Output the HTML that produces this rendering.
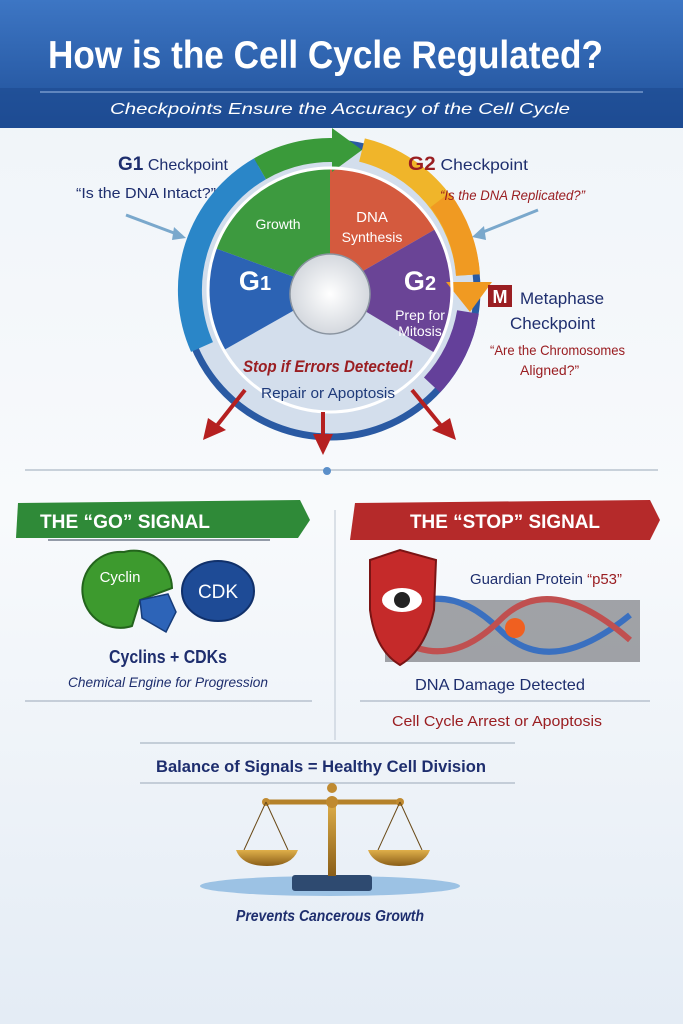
<!DOCTYPE html>
<html><head><meta charset="utf-8"><style>
html,body{margin:0;padding:0;background:#f3f6fa}
svg{display:block}
text{font-family:"Liberation Sans",sans-serif}
</style></head><body>
<svg width="683" height="1024" viewBox="0 0 683 1024" xmlns="http://www.w3.org/2000/svg">
<defs>
<linearGradient id="hdr" x1="0" y1="0" x2="0" y2="1"><stop offset="0" stop-color="#3d76c4"/><stop offset="1" stop-color="#1f4f98"/></linearGradient>
<linearGradient id="bg" x1="0" y1="0" x2="0" y2="1"><stop offset="0" stop-color="#eef3f8"/><stop offset="0.5" stop-color="#f8fafc"/><stop offset="1" stop-color="#e4ecf5"/></linearGradient>
<linearGradient id="gold" x1="0" y1="0" x2="0" y2="1"><stop offset="0" stop-color="#e0b04a"/><stop offset="1" stop-color="#8a5e18"/></linearGradient>
<radialGradient id="hub"><stop offset="0" stop-color="#ffffff"/><stop offset="1" stop-color="#d4d8de"/></radialGradient>
</defs>
<rect width="683" height="1024" fill="url(#bg)"/>
<!-- header -->
<rect width="683" height="128" fill="url(#hdr)"/>
<rect y="88" width="683" height="40" fill="#1d4a8f" opacity="0.6"/>
<text x="48" y="68" font-size="39" font-weight="bold" fill="#fff" textLength="555" lengthAdjust="spacingAndGlyphs">How is the Cell Cycle Regulated?</text>
<line x1="40" y1="92" x2="643" y2="92" stroke="#9fbde6" stroke-width="1"/>
<text x="110" y="114" font-size="16" font-style="italic" fill="#fff" textLength="460" lengthAdjust="spacingAndGlyphs">Checkpoints Ensure the Accuracy of the Cell Cycle</text>

<!-- cycle: center 330,290 -->
<circle cx="330" cy="290" r="150" fill="#d3deec"/>
<circle cx="330" cy="290" r="147" fill="none" stroke="#2a5aa3" stroke-width="7"/>
<path d="M330 290 L215.4 248.3 A122 122 0 0 1 330 168 Z" fill="#3d9a3f"/>
<path d="M330 290 L330 168 A122 122 0 0 1 435.7 229 Z" fill="#d45a3e"/>
<path d="M330 290 L435.7 229 A122 122 0 0 1 434.6 352.8 Z" fill="#6a4496"/>
<path d="M330 290 L215.4 248.3 A122 122 0 0 0 224 350 Z" fill="#2c63b4"/>
<circle cx="330" cy="294" r="40" fill="url(#hub)" stroke="#8a94a0" stroke-width="1.5"/>
<!-- outer ring arcs, r=140 -->
<path d="M202 347 A140 140 0 0 1 260 168.8" fill="none" stroke="#2a86c8" stroke-width="24"/>
<path d="M260 168.8 A140 140 0 0 1 345 150.8" fill="none" stroke="#3a9a3a" stroke-width="24"/>
<polygon points="332,128 332,172 362,150" fill="#3a9a3a"/>
<path d="M362 150 A140 140 0 0 1 468 275" fill="none" stroke="#f0b52a" stroke-width="24"/>
<path d="M440 200 A140 140 0 0 1 468 275" fill="none" stroke="#f09a22" stroke-width="24"/>
<polygon points="446,282 492,282 470,312" fill="#f09a22"/>
<path d="M468 312 A140 140 0 0 1 432 385" fill="none" stroke="#64409a" stroke-width="22"/>
<circle cx="330" cy="290" r="122" fill="none" stroke="#fff" stroke-width="3"/>
<text x="278" y="229" text-anchor="middle" font-size="14" fill="#fff">Growth</text>
<text x="372" y="222" text-anchor="middle" font-size="15" fill="#fff">DNA</text>
<text x="372" y="242" text-anchor="middle" font-size="14" fill="#fff">Synthesis</text>
<text x="255" y="290" text-anchor="middle" font-size="27" font-weight="bold" fill="#fff">G<tspan font-size="20">1</tspan></text>
<text x="420" y="290" text-anchor="middle" font-size="27" font-weight="bold" fill="#fff">G<tspan font-size="20">2</tspan></text>
<text x="420" y="320" text-anchor="middle" font-size="14" fill="#fff">Prep for</text>
<text x="420" y="336" text-anchor="middle" font-size="14" fill="#fff">Mitosis</text>
<text x="328" y="372" text-anchor="middle" font-size="17" font-weight="bold" font-style="italic" fill="#9a1e22" textLength="170" lengthAdjust="spacingAndGlyphs">Stop if Errors Detected!</text>
<text x="328" y="398" text-anchor="middle" font-size="15" fill="#1e3a7a" textLength="134" lengthAdjust="spacingAndGlyphs">Repair or Apoptosis</text>
<!-- labels -->
<text x="118" y="170" font-size="16" fill="#1e2e6e" textLength="110" lengthAdjust="spacingAndGlyphs"><tspan font-weight="bold" font-size="19">G1</tspan> Checkpoint</text>
<text x="76" y="198" font-size="15" fill="#1e2e6e" textLength="140" lengthAdjust="spacingAndGlyphs">“Is the DNA Intact?”</text>
<text x="408" y="170" font-size="16" fill="#1e2e6e" textLength="120" lengthAdjust="spacingAndGlyphs"><tspan font-weight="bold" font-size="19" fill="#9a1e22">G2</tspan> Checkpoint</text>
<text x="440" y="200" font-size="14" font-style="italic" fill="#9a1e22" textLength="145" lengthAdjust="spacingAndGlyphs">“Is the DNA Replicated?”</text>
<rect x="488" y="285" width="24" height="22" fill="#9a1e22"/>
<text x="500" y="303" text-anchor="middle" font-size="18" font-weight="bold" fill="#fff">M</text>
<text x="520" y="304" font-size="17" fill="#1e2e6e">Metaphase</text>
<text x="510" y="329" font-size="17" fill="#1e2e6e">Checkpoint</text>
<text x="490" y="355" font-size="14" fill="#9a1e22" textLength="135" lengthAdjust="spacingAndGlyphs">“Are the Chromosomes</text>
<text x="520" y="375" font-size="14" fill="#9a1e22">Aligned?”</text>
<line x1="126" y1="215" x2="182" y2="236" stroke="#7aa8cc" stroke-width="3"/>
<polygon points="186,238 174,227 172,240" fill="#7aa8cc"/>
<line x1="538" y1="210" x2="478" y2="234" stroke="#7aa8cc" stroke-width="3"/>
<polygon points="472,237 484,226 486,240" fill="#7aa8cc"/>
<!-- red arrows -->
<line x1="245" y1="390" x2="215" y2="428" stroke="#b52020" stroke-width="4"/>
<polygon points="203,440 208,418 226,430" fill="#b52020"/>
<line x1="323" y1="412" x2="323" y2="438" stroke="#b52020" stroke-width="4"/>
<polygon points="323,455 313,434 333,434" fill="#b52020"/>
<line x1="412" y1="390" x2="443" y2="428" stroke="#b52020" stroke-width="4"/>
<polygon points="456,440 432,430 450,418" fill="#b52020"/>
<line x1="25" y1="470" x2="658" y2="470" stroke="#9aa8b8" stroke-width="1"/>
<circle cx="327" cy="471" r="4" fill="#5b8fc9"/>
<line x1="335" y1="510" x2="335" y2="740" stroke="#bcc6d2" stroke-width="1"/>

<!-- GO -->
<path d="M18 503 L300 500 L310 520 L298 538 L16 538 Z" fill="#2f8a38"/>
<text x="125" y="528" text-anchor="middle" font-size="19" font-weight="bold" fill="#fff" textLength="170" lengthAdjust="spacingAndGlyphs">THE “GO” SIGNAL</text>
<line x1="48" y1="540" x2="270" y2="540" stroke="#2f3d55" stroke-width="1"/>
<ellipse cx="218" cy="591" rx="36" ry="30" fill="#1e4b96" stroke="#10306a" stroke-width="2"/>
<text x="218" y="598" text-anchor="middle" font-size="19" fill="#fff">CDK</text>
<path d="M124 552 A38 38 0 1 0 132 626 L140 600 L172 588 A38 38 0 0 0 124 552 Z" fill="#3d9a2e" stroke="#23641c" stroke-width="2"/>
<text x="120" y="582" text-anchor="middle" font-size="15" fill="#fff">Cyclin</text>
<path d="M140 600 L168 594 L176 612 L166 632 L142 618 Z" fill="#2d64b8" stroke="#163c7a" stroke-width="1.5"/>
<text x="168" y="663" text-anchor="middle" font-size="18" font-weight="bold" fill="#1e2e6e" textLength="118" lengthAdjust="spacingAndGlyphs">Cyclins + CDKs</text>
<text x="168" y="687" text-anchor="middle" font-size="14" font-style="italic" fill="#1e2e6e" textLength="200" lengthAdjust="spacingAndGlyphs">Chemical Engine for Progression</text>
<line x1="25" y1="701" x2="312" y2="701" stroke="#9aa8b8" stroke-width="1"/>

<!-- STOP -->
<path d="M355 503 L650 500 L660 520 L650 540 L350 540 Z" fill="#b52a2a"/>
<text x="505" y="528" text-anchor="middle" font-size="19" font-weight="bold" fill="#fff" textLength="190" lengthAdjust="spacingAndGlyphs">THE “STOP” SIGNAL</text>
<rect x="385" y="600" width="255" height="62" fill="#3a3a40" opacity="0.45"/>
<path d="M400 610 Q450 580 500 630 T630 615" fill="none" stroke="#3a70c0" stroke-width="6"/>
<path d="M400 640 Q450 670 500 620 T630 640" fill="none" stroke="#c05050" stroke-width="6"/>
<circle cx="515" cy="628" r="10" fill="#f06020"/>
<path d="M370 560 L400 550 L436 560 L434 610 Q425 650 400 665 Q375 650 370 610 Z" fill="#c52a2a" stroke="#7a1414" stroke-width="2"/>
<ellipse cx="402" cy="600" rx="20" ry="12" fill="#fff"/>
<circle cx="402" cy="600" r="8" fill="#222"/>
<text x="470" y="584" font-size="15" fill="#1e2e6e" textLength="152" lengthAdjust="spacingAndGlyphs">Guardian Protein <tspan fill="#9a1e22">“p53”</tspan></text>
<text x="500" y="690" text-anchor="middle" font-size="16" fill="#1e2e6e" textLength="170" lengthAdjust="spacingAndGlyphs">DNA Damage Detected</text>
<line x1="360" y1="701" x2="650" y2="701" stroke="#9aa8b8" stroke-width="1"/>
<text x="497" y="726" text-anchor="middle" font-size="15" fill="#9a1e22" textLength="210" lengthAdjust="spacingAndGlyphs">Cell Cycle Arrest or Apoptosis</text>

<!-- balance -->
<line x1="140" y1="743" x2="515" y2="743" stroke="#9aa8b8" stroke-width="1"/>
<text x="321" y="772" text-anchor="middle" font-size="17" fill="#1e2e6e" font-weight="bold" textLength="330" lengthAdjust="spacingAndGlyphs">Balance of Signals = Healthy Cell Division</text>
<line x1="140" y1="783" x2="515" y2="783" stroke="#9aa8b8" stroke-width="1"/>
<ellipse cx="330" cy="886" rx="130" ry="10" fill="#9cc2e4"/>
<rect x="292" y="875" width="80" height="16" rx="3" fill="#2e4a70"/>
<rect x="328" y="800" width="8" height="76" fill="url(#gold)"/>
<circle cx="332" cy="788" r="5" fill="#c08a30"/>
<line x1="266" y1="802" x2="400" y2="802" stroke="#b5822a" stroke-width="5"/>
<circle cx="332" cy="802" r="6" fill="#c08a30"/>
<circle cx="266" cy="802" r="4" fill="#c08a30"/><circle cx="400" cy="802" r="4" fill="#c08a30"/>
<path d="M266 802 L244 850 M266 802 L288 850 M400 802 L378 850 M400 802 L422 850" stroke="#6a4a18" stroke-width="1"/>
<path d="M236 850 L298 850 Q292 866 267 866 Q242 866 236 850 Z" fill="url(#gold)"/>
<path d="M368 850 L430 850 Q424 866 399 866 Q374 866 368 850 Z" fill="url(#gold)"/>
<text x="330" y="921" text-anchor="middle" font-size="16" font-style="italic" font-weight="bold" fill="#1e2e6e" textLength="188" lengthAdjust="spacingAndGlyphs">Prevents Cancerous Growth</text>
</svg>
</body></html>
